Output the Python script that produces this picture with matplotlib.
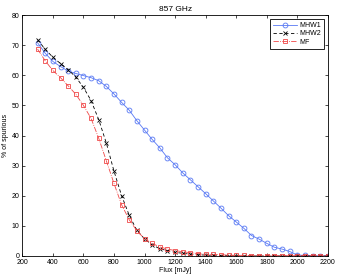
import matplotlib
matplotlib.use("Agg")
import matplotlib.pyplot as plt
import numpy as np

flux = np.arange(300, 2201, 50)

mhw1 = [70.8, 67.3, 64.6, 62.9, 61.4, 60.6, 59.9, 59.2, 58.2, 56.3,
        53.8, 51.0, 48.4, 44.9, 41.8, 38.7, 35.9, 32.6, 30.3, 27.6,
        25.3, 23.0, 20.7, 18.3, 15.9, 13.4, 11.3, 9.2, 6.8, 5.6,
        4.2, 2.9, 2.3, 1.5, 0.3, 0.2, 0.1, 0.0, 0.0]
mhw2 = [71.8, 68.6, 66.0, 63.9, 61.9, 59.4, 56.0, 51.6, 45.3, 37.5,
        28.2, 20.0, 13.5, 8.5, 5.7, 3.7, 2.4, 1.8, 1.2, 0.9,
        0.6, 0.4, 0.3, 0.2, 0.1, 0.1, 0.0, 0.0, 0.0, 0.0,
        0.0, 0.0, 0.0, 0.0, 0.0, 0.0, 0.0, 0.0, 0.0]
mf = [68.7, 64.8, 61.6, 59.2, 56.5, 53.7, 50.0, 45.7, 39.1, 31.6,
      24.1, 17.0, 12.0, 8.4, 5.7, 4.2, 3.0, 2.3, 1.8, 1.4,
      1.1, 0.8, 0.6, 0.5, 0.4, 0.3, 0.2, 0.2, 0.1, 0.1,
      0.1, 0.1, 0.1, 0.1, 0.1, 0.1, 0.1, 0.1, 0.1]

plt.rcParams['font.family'] = ['Liberation Sans', 'DejaVu Sans']
plt.rcParams['font.size'] = 5

fig = plt.figure(figsize=(3.38, 2.76), dpi=100)
ax = fig.add_axes([0.066, 0.0725, 0.904, 0.873])

ax.plot(flux, mhw1, '-o', color='#5878f4', lw=0.6, ms=3.5, mfc='none', mew=0.6, label='MHW1')
ax.plot(flux, mhw2, '--x', color='black', lw=0.6, ms=3, mew=0.6, label='MHW2', dashes=(4, 3))
ax.plot(flux, mf, '-.s', color='#f04848', lw=0.6, ms=3.2, mfc='none', mew=0.6, label='MF')

ax.set_xlim(200, 2200)
ax.set_ylim(0, 80)
ax.set_xticks(np.arange(200, 2201, 200))
ax.set_yticks(np.arange(0, 81, 10))
ax.tick_params(direction='in', top=True, right=True, length=2.5, width=0.5, pad=2)
for s in ax.spines.values():
    s.set_linewidth(0.6)

ax.set_xlabel('Flux [mJy]', labelpad=1)
ax.set_ylabel('% of spurious', labelpad=2)
ax.set_title('857 GHz', pad=3)

leg = ax.legend(loc='upper right', fancybox=False, edgecolor='black', framealpha=1,
                handlelength=3.5, borderpad=0.4, labelspacing=0.2, handletextpad=0.3,
                borderaxespad=0.6)
leg.get_frame().set_linewidth(0.6)

fig.savefig('out.png', dpi=100)
